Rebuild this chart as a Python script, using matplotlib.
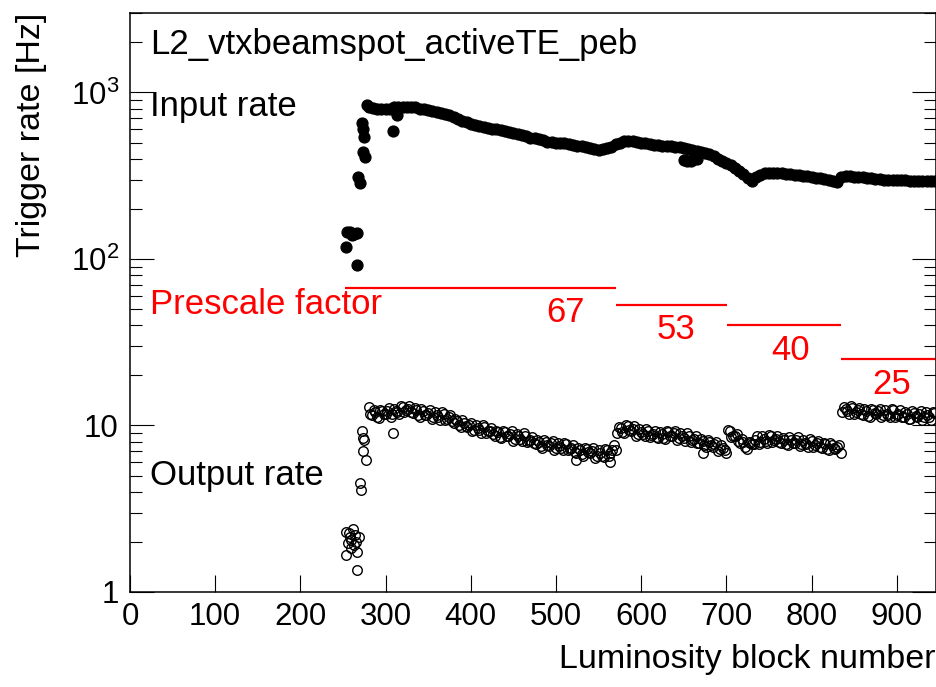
import matplotlib

matplotlib.use("Agg")

import math

import matplotlib.pyplot as plt
from matplotlib.ticker import FixedLocator, FuncFormatter, LogLocator, NullFormatter, NullLocator

plt.rcParams["font.family"] = ["Liberation Sans", "DejaVu Sans"]
plt.rcParams["mathtext.fontset"] = "custom"
plt.rcParams["mathtext.rm"] = "Liberation Sans"
plt.rcParams["mathtext.it"] = "Liberation Sans:italic"

# --- input rate (filled markers) ---
input_lb_start = [253, 255, 258, 261, 263, 266, 267, 268, 270, 272, 273, 274, 275, 276, 278]
input_rate_start = [118, 145, 146, 140, 142, 143, 92, 310, 285, 653, 600, 441, 543, 411, 841]

input_lb_band = list(range(280, 946, 5))
input_rate_band = [
    815, 808, 800, 795, 790, 800, 815, 820, 822, 820,
    818, 812, 800, 790, 780, 772, 765, 755, 745, 730,
    710, 690, 672, 660, 650, 640, 630, 622, 615, 607,
    600, 592, 584, 576, 569, 562, 555, 546, 535, 530,
    525, 515, 507, 504, 500, 497, 494, 490, 485, 480,
    475, 470, 465, 459, 454, 456, 462, 472, 488, 500,
    510, 514, 508, 503, 500, 496, 490, 486, 483, 480,
    478, 475, 472, 468, 462, 455, 450, 445, 440, 432,
    425, 415, 400, 390, 378, 365, 352, 338, 322, 305,
    295, 310, 320, 328, 330, 329, 328, 326, 324, 322,
    320, 318, 316, 314, 311, 308, 305, 301, 297, 292,
    288, 312, 314, 313, 312, 311, 310, 308, 305, 303,
    301, 300, 299, 298, 298, 297, 296, 295, 295, 294,
    294, 293, 293, 292,
]

input_lb_extra = [309, 313, 650, 654, 658, 662, 666]
input_rate_extra = [587, 735, 392, 385, 390, 398, 396]

# --- output rate (open markers) ---
output_lb_start = [253.5, 254, 256, 257, 258, 259, 260, 262, 262.5, 264, 265,
                   266, 267, 269, 269.5, 271, 272, 273, 274, 275, 277, 309]
output_rate_start = [2.3, 1.67, 1.96, 2.25, 2.15, 1.83, 2.05, 2.4, 1.92, 2.2, 2.0,
                     1.75, 1.36, 2.13, 4.5, 4.1, 9.2, 8.4, 7.0, 8.2, 6.2, 9.0]

output_lb_band = list(range(280, 948, 4))
output_rate_band = [
    12.9, 11.6, 12.0, 11.1, 12.2, 11.7, 12.7, 11.7, 12.2, 11.7,
    12.9, 12.4, 13.1, 11.9, 12.3, 11.3, 12.2, 11.5, 12.3, 11.3,
    11.5, 10.8, 11.8, 11.0, 11.6, 10.4, 10.7, 9.8, 10.4, 9.8,
    10.4, 9.4, 9.6, 9.0, 9.8, 9.2, 9.7, 8.7, 9.1, 8.4,
    9.1, 8.6, 9.2, 8.3, 8.6, 8.1, 8.7, 8.1, 8.5, 7.7,
    8.0, 7.3, 8.0, 7.5, 8.1, 7.3, 7.5, 7.1, 7.7, 7.2,
    7.6, 6.8, 7.1, 6.6, 7.2, 6.8, 7.3, 6.6, 6.8, 6.5,
    7.1, 6.8, 7.6, 9.0, 9.7, 9.0, 9.9, 9.2, 9.9, 8.9,
    9.1, 8.6, 9.3, 8.8, 9.2, 8.4, 8.9, 8.3, 9.1, 8.6,
    9.3, 8.4, 8.6, 8.1, 8.7, 8.2, 8.6, 7.8, 8.1, 7.4,
    8.0, 7.4, 8.0, 7.2, 7.3, 6.8, 9.3, 8.7, 8.9, 7.9,
    8.0, 7.2, 7.8, 7.7, 8.6, 8.0, 8.3, 7.9, 8.6, 8.2,
    8.6, 7.9, 8.2, 7.6, 8.2, 7.8, 8.5, 7.7, 7.9, 7.4,
    8.1, 7.6, 8.1, 7.3, 7.7, 7.1, 7.6, 7.2, 7.6, 12.0,
    12.5, 11.8, 12.8, 12.1, 12.8, 11.6, 12.2, 11.3, 12.4, 11.8,
    12.6, 11.5, 11.8, 11.2, 12.3, 11.6, 12.3, 11.2, 11.7, 10.9,
    11.9, 11.3, 12.2, 11.2, 11.5, 10.8, 11.9,
]

# the blocks in between
output_lb_mid = list(range(282, 946, 4))
output_rate_mid = [
    11.8, 12.4, 11.3, 12.4, 11.7, 12.2, 11.3, 12.6, 12.0, 13.1,
    12.0, 12.6, 12.1, 12.7, 11.5, 12.5, 11.6, 11.9, 10.9, 12.0,
    11.2, 12.0, 10.8, 11.2, 10.6, 11.0, 10.0, 10.8, 9.9, 10.1,
    9.2, 10.0, 9.4, 10.0, 9.0, 9.3, 8.9, 9.3, 8.5, 9.3,
    8.7, 8.9, 8.1, 8.9, 8.3, 9.0, 8.0, 8.2, 7.8, 8.2,
    7.5, 8.2, 7.6, 7.8, 7.1, 7.8, 7.3, 7.9, 7.1, 7.3,
    6.9, 7.3, 6.7, 7.3, 6.9, 7.0, 6.4, 7.1, 6.6, 7.2,
    6.6, 7.1, 7.1, 9.8, 9.1, 10.1, 9.4, 9.5, 8.7, 9.5,
    8.9, 9.5, 8.5, 8.9, 8.5, 9.1, 8.4, 9.2, 8.7, 9.0,
    8.2, 9.0, 8.4, 9.0, 8.0, 8.3, 7.9, 8.3, 7.6, 8.2,
    7.6, 7.7, 7.0, 7.6, 7.1, 9.4, 8.5, 8.7, 8.1, 8.3,
    7.4, 8.0, 7.7, 8.2, 7.7, 8.6, 8.1, 8.8, 8.0, 8.3,
    8.0, 8.4, 7.7, 8.5, 7.9, 8.2, 7.5, 8.2, 7.7, 8.3,
    7.4, 7.8, 7.4, 7.8, 7.2, 7.8, 7.3, 7.4, 6.8, 12.9,
    12.2, 13.1, 11.8, 12.3, 11.8, 12.5, 11.4, 12.6, 11.9, 12.2,
    11.2, 12.3, 11.6, 12.5, 11.3, 11.8, 11.3, 12.0, 11.0, 12.2,
    11.4, 11.7, 10.8, 12.0, 11.2, 12.1,
]

output_lb_extra = [524, 563, 672]
output_rate_extra = [6.2, 6.0, 6.8]

# --- prescale periods ---
prescale_start = [252, 571, 701, 835]
prescale_end = [571, 701, 835, 946]
prescale_factor = [67, 53, 40, 25]

assert len(input_lb_band) == len(input_rate_band)
assert len(output_lb_band) == len(output_rate_band)
assert len(output_lb_mid) == len(output_rate_mid)

fig = plt.figure(figsize=(9.37, 6.87), dpi=100)
ax = fig.add_axes([0.1387, 0.1383, 0.8602, 0.8428])

for x0, x1, ps in zip(prescale_start, prescale_end, prescale_factor):
    ax.plot([x0, x1], [ps, ps], color="red", lw=1.6, solid_capstyle="butt")
    # the last label sits a little closer to the frame
    dx = -18 if x1 == prescale_end[-1] else -23
    ax.annotate(str(ps), xy=(x1, ps), xytext=(dx, -18), textcoords="offset points",
                ha="right", va="center", color="red", fontsize=25)

marker_in = dict(linestyle="none", marker="o", ms=7.8, color="black", mec="black")
ax.plot(input_lb_start, input_rate_start, **marker_in)
ax.plot(input_lb_band, input_rate_band, **marker_in)
ax.plot(input_lb_extra, input_rate_extra, **marker_in)

marker_out = dict(linestyle="none", marker="o", ms=6.9, mfc="none", mec="black", mew=1.0)
ax.plot(output_lb_start, output_rate_start, **marker_out)
ax.plot(output_lb_band, output_rate_band, **marker_out)
ax.plot(output_lb_mid, output_rate_mid, **marker_out)
ax.plot(output_lb_extra, output_rate_extra, **marker_out)

ax.set_xlim(0, 946)
ax.set_yscale("log")
ax.set_ylim(1, 3000)

ax.xaxis.set_major_locator(FixedLocator([0, 100, 200, 300, 400, 500, 600, 700, 800, 900]))
ax.xaxis.set_minor_locator(NullLocator())
ax.yaxis.set_major_locator(LogLocator(base=10))
ax.yaxis.set_minor_locator(LogLocator(base=10, subs=range(2, 10)))
ax.yaxis.set_minor_formatter(NullFormatter())


def log_label(value, _pos):
    if value < 1.5:
        return "1"
    if value < 15:
        return "10"
    return f"$10^{{{int(round(math.log10(value)))}}}$"


ax.yaxis.set_major_formatter(FuncFormatter(log_label))

ax.tick_params(axis="x", which="major", direction="in", length=12.5, width=0.8,
               labelsize=22.5, pad=7, top=False)
ax.tick_params(axis="y", which="major", direction="in", length=17, width=0.8,
               labelsize=22.5, pad=8, right=True)
ax.tick_params(axis="y", which="minor", direction="in", length=8.5, width=0.8, right=True)
for spine in ax.spines.values():
    spine.set_linewidth(1.1)

ax.set_xlabel("Luminosity block number", fontsize=24.5, loc="right")
ax.xaxis.set_label_coords(1.0, -0.09)
ax.set_ylabel("Trigger rate [Hz]", fontsize=24.5, loc="top")
ax.yaxis.set_label_coords(-0.103, 1.0)

ax.text(0.025, 0.945, "L2_vtxbeamspot_activeTE_peb", transform=ax.transAxes,
        fontsize=25, va="center", ha="left")
ax.text(0.025, 0.838, "Input rate", transform=ax.transAxes, fontsize=25, va="center", ha="left")
ax.text(0.025, 0.496, "Prescale factor", transform=ax.transAxes, fontsize=25,
        va="center", ha="left", color="red")
ax.text(0.025, 0.202, "Output rate", transform=ax.transAxes, fontsize=25, va="center", ha="left")

fig.savefig("out.png", dpi=100)
plt.close(fig)
